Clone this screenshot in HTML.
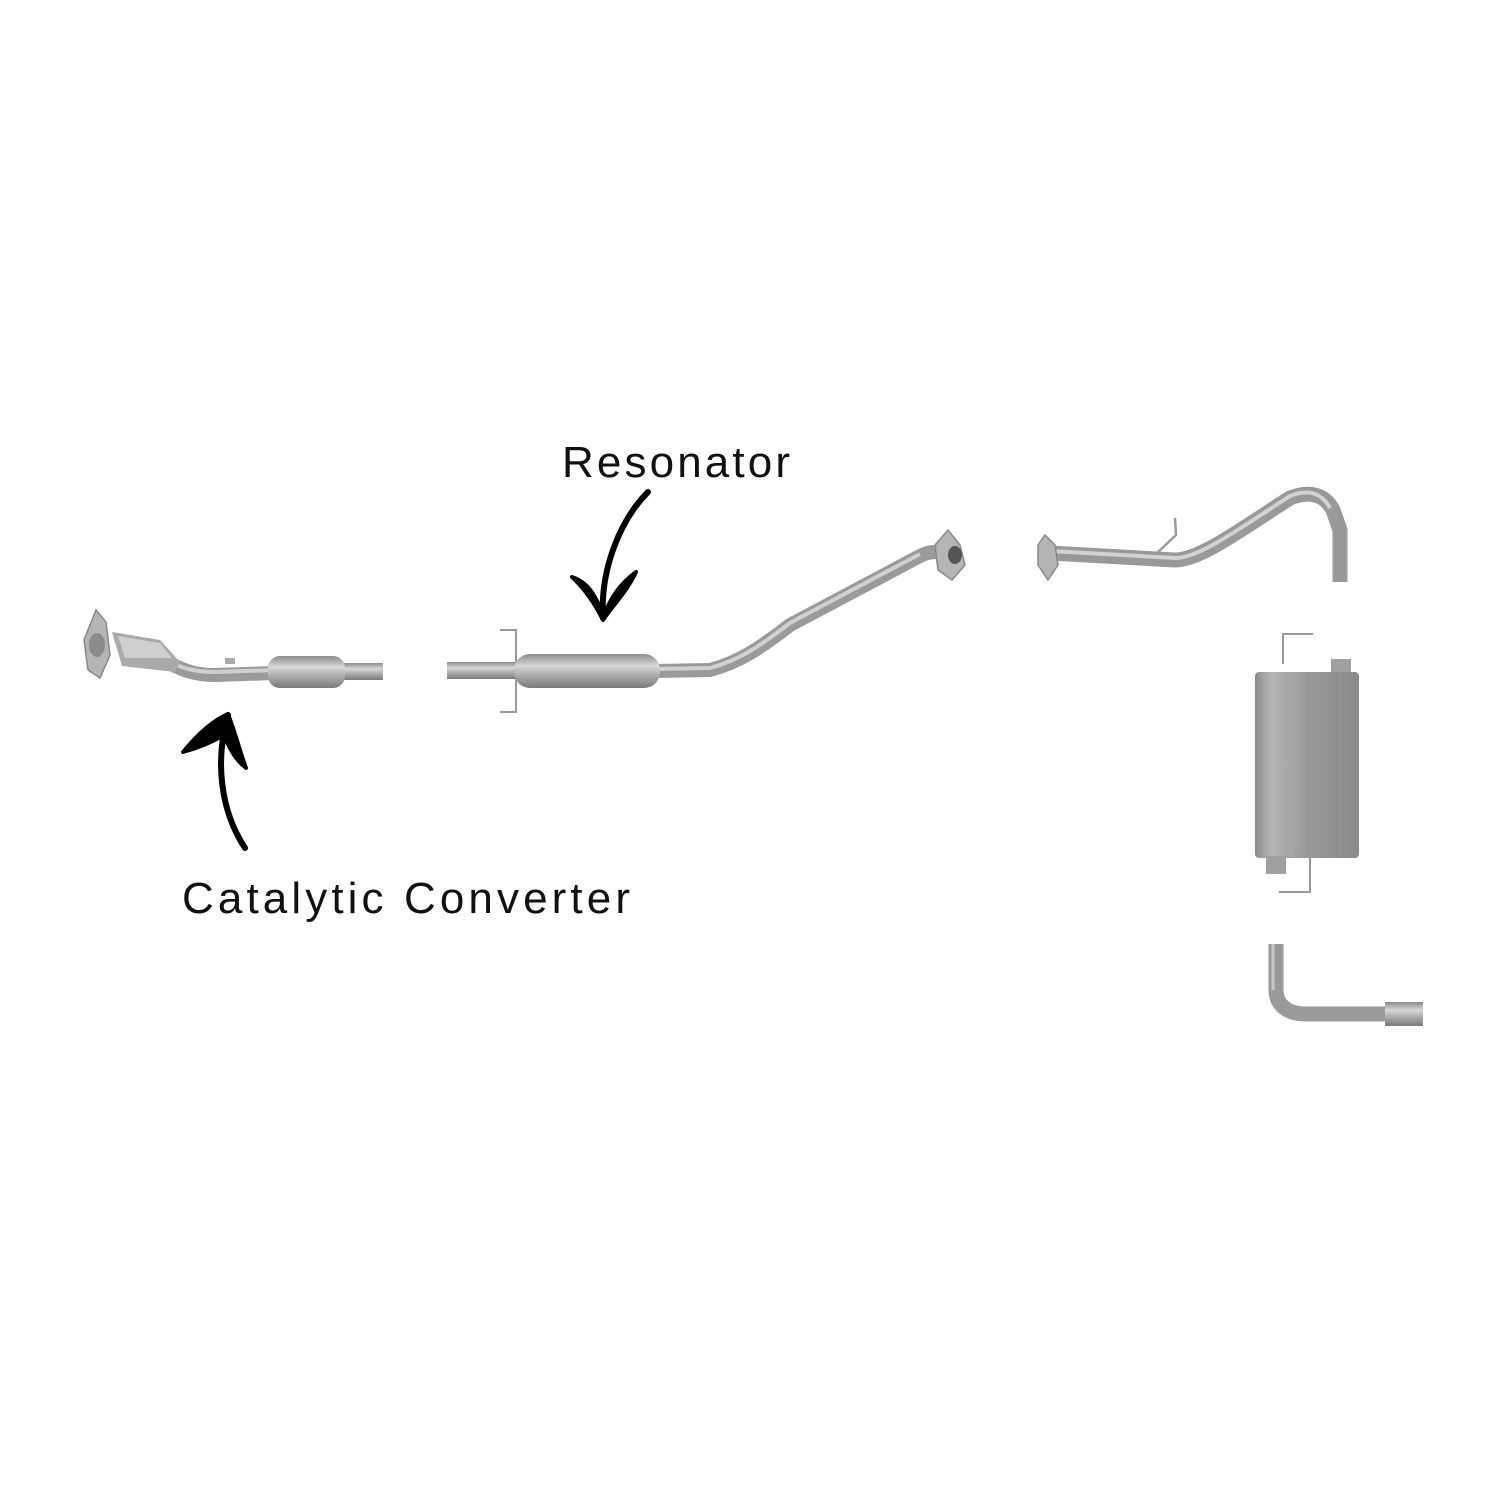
<!DOCTYPE html>
<html><head><style>html,body{margin:0;padding:0;background:#fff;}svg{display:block}</style></head>
<body>
<svg width="1512" height="1512" viewBox="0 0 1512 1512" xmlns="http://www.w3.org/2000/svg">
<defs>
<linearGradient id="gv" x1="0" y1="0" x2="0" y2="1">
<stop offset="0" stop-color="#8c8c8c"/><stop offset="0.35" stop-color="#d8d8d8"/><stop offset="0.6" stop-color="#b0b0b0"/><stop offset="1" stop-color="#7a7a7a"/></linearGradient>
<linearGradient id="gh" x1="0" y1="0" x2="1" y2="0">
<stop offset="0" stop-color="#8a8a8a"/><stop offset="0.15" stop-color="#b5b5b5"/><stop offset="0.5" stop-color="#999"/><stop offset="1" stop-color="#8a8a8a"/></linearGradient>
</defs>
<g fill="none" stroke-linecap="butt" stroke-linejoin="round">
<path d="M140,650 C170,660 180,675 215,675 L275,673" stroke="#9a9a9a" stroke-width="14"/>
<path d="M140,650 C170,660 180,672 215,672 L275,670" stroke="#cfcfcf" stroke-width="4"/>
</g>
<rect x="340" y="663" width="43" height="17" fill="url(#gv)"/>
<path d="M112,632 L160,640 L180,662 L175,672 L122,666 Z" fill="#aaa"/>
<path d="M118,636 L160,643 L172,658 L125,658 Z" fill="#cfcfcf"/>
<path d="M96,610 L106,622 L110,655 L100,678 L88,670 L84,640 Z" fill="#b5b5b5" stroke="#888" stroke-width="1.5"/>
<ellipse cx="97" cy="645" rx="8" ry="12" fill="#8c8c8c"/>
<rect x="225" y="658" width="10" height="6" fill="#aaa"/>
<rect x="268" y="656" width="77" height="32" rx="12" fill="url(#gv)"/>
<!-- resonator assembly -->
<path d="M500,630 L516,630 L516,712 L500,712" fill="none" stroke="#999" stroke-width="2"/>
<rect x="447" y="662" width="73" height="17" fill="url(#gv)"/>
<path d="M655,671 L710,670 C740,662 760,648 790,625 L920,556 C932,550 940,552 945,555" fill="none" stroke="#9a9a9a" stroke-width="14"/>
<path d="M655,669 L710,668 C740,660 760,646 790,623 L920,554" fill="none" stroke="#d0d0d0" stroke-width="4"/>
<rect x="514" y="654" width="146" height="34" rx="16" fill="url(#gv)"/>
<path d="M948,530 L960,545 L965,565 L952,580 L938,570 L935,545 Z" fill="#b5b5b5" stroke="#888" stroke-width="1.5"/>
<ellipse cx="955" cy="555" rx="7" ry="9" fill="#555"/>
<!-- right pipe -->
<path d="M1050,553 L1175,560 C1200,560 1240,530 1290,498 C1310,490 1325,495 1333,510 L1340,530 L1340,582" fill="none" stroke="#999" stroke-width="15"/>
<path d="M1050,551 L1175,558 C1200,558 1240,528 1290,496 C1310,488 1322,494 1330,508" fill="none" stroke="#d2d2d2" stroke-width="4"/>
<path d="M1175,518 L1176,535 L1157,553" fill="none" stroke="#999" stroke-width="2.5"/>
<path d="M1045,535 L1055,545 L1058,565 L1048,580 L1038,565 L1038,545 Z" fill="#b5b5b5" stroke="#888" stroke-width="1.5"/>
<!-- muffler -->
<path d="M1313,634 L1283,634 L1283,664" fill="none" stroke="#999" stroke-width="2"/>
<rect x="1331" y="659" width="20" height="16" fill="#a0a0a0"/>
<rect x="1255" y="672" width="104" height="186" rx="4" fill="url(#gh)"/>
<rect x="1266" y="856" width="20" height="18" fill="#a0a0a0"/>
<path d="M1295,856 L1310,856 L1310,892 L1279,892" fill="none" stroke="#999" stroke-width="2"/>
<!-- tail -->
<path d="M1276,944 L1276,990 C1276,1005 1288,1014 1305,1014 L1390,1014" fill="none" stroke="#9a9a9a" stroke-width="15"/>
<path d="M1273,944 L1273,990" fill="none" stroke="#c8c8c8" stroke-width="3"/>
<rect x="1385" y="1002" width="38" height="24" fill="url(#gv)"/>
<!-- arrows -->
<path d="M648,492 C620,520 600,570 603,618" fill="none" stroke="#000" stroke-width="6" stroke-linecap="round"/>
<path d="M572,577 C588,582 598,598 603,618 C610,598 620,584 636,572 C628,590 614,604 603,620 C594,602 584,588 572,577 Z" fill="#000" stroke="#000" stroke-width="4" stroke-linejoin="round"/>
<path d="M245,848 C220,810 215,760 228,715" fill="none" stroke="#000" stroke-width="6" stroke-linecap="round"/>
<path d="M183,752 C198,734 214,720 228,714 C236,735 240,752 246,768 C236,760 230,750 224,735 C212,742 198,748 183,752 Z" fill="#000" stroke="#000" stroke-width="4" stroke-linejoin="round"/>
<text x="562" y="477" font-family="Liberation Sans, sans-serif" font-size="44" fill="#111" textLength="228" lengthAdjust="spacing">Resonator</text>
<text x="182" y="913" font-family="Liberation Sans, sans-serif" font-size="44" fill="#111" textLength="448" lengthAdjust="spacing">Catalytic Converter</text>
</svg>
</body></html>
